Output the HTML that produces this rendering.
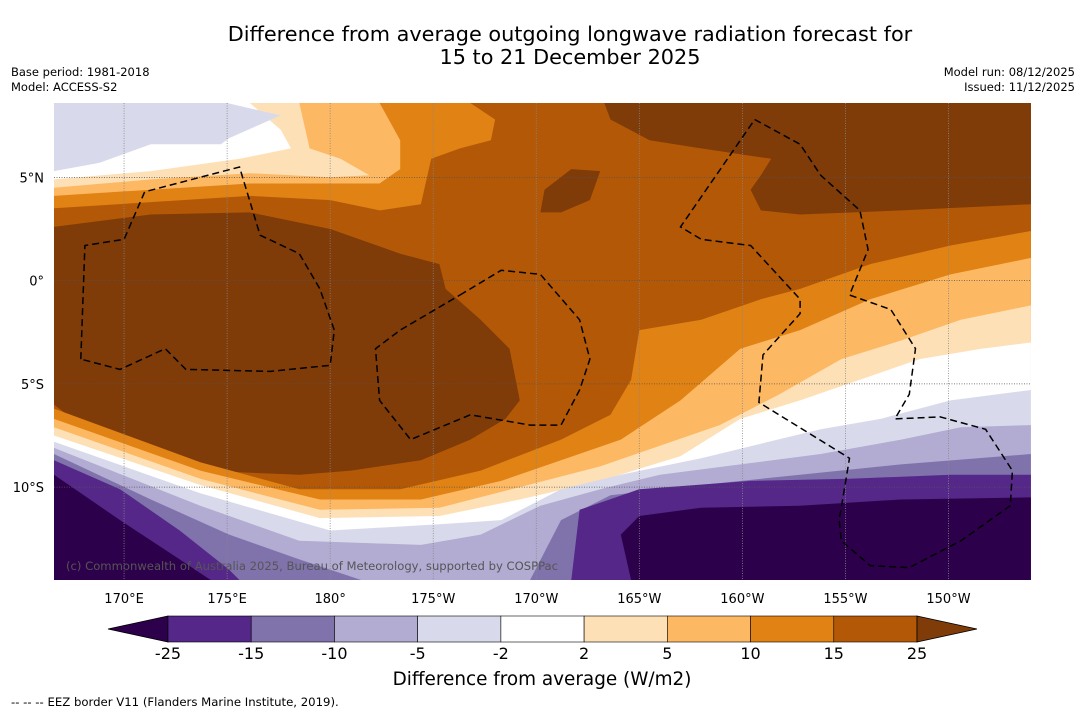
<!DOCTYPE html>
<html><head><meta charset="utf-8"><style>
body{margin:0;background:#fff;width:1085px;height:713px;overflow:hidden;font-family:"Liberation Sans","DejaVu Sans",sans-serif}
svg{display:block}
text{font-family:"DejaVu Sans","Liberation Sans",sans-serif}
</style></head><body>
<svg id="chart" width="1085" height="713" viewBox="0 0 1085 713">
<text x="570" y="41" font-size="20.8" text-anchor="middle" fill="#000">Difference from average outgoing longwave radiation forecast for</text>
<text x="570" y="64" font-size="20.8" text-anchor="middle" fill="#000">15 to 21 December 2025</text>
<text x="11" y="76" font-size="11.5">Base period: 1981-2018</text>
<text x="11" y="91" font-size="11.5">Model: ACCESS-S2</text>
<text x="1075" y="76" font-size="11.5" text-anchor="end">Model run: 08/12/2025</text>
<text x="1075" y="91" font-size="11.5" text-anchor="end">Issued: 11/12/2025</text>
<defs><clipPath id="mapclip"><rect x="54" y="103" width="977" height="477"/></clipPath></defs>
<g id="map" clip-path="url(#mapclip)"></g>
<g id="grid"></g>
<g id="eez" clip-path="url(#mapclip)"></g>
<text x="66" y="570" font-size="11.6" fill="#555">(c) Commonwealth of Australia 2025, Bureau of Meteorology, supported by COSPPac</text>
<g id="xticks"></g>
<g id="yticks"></g>
<g id="cbar"></g>
<text x="542" y="685" font-size="18.4" text-anchor="middle">Difference from average (W/m2)</text>
<text x="11" y="706" font-size="11.7">--  --  -- EEZ border V11 (Flanders Marine Institute, 2019).</text>
</svg>
<script>
const levels=[-25,-15,-10,-5,-2,2,5,10,15,25];
const colors=["#2d004b","#542788","#8073ac","#b2abd2","#d8daeb","#ffffff","#fee0b6","#fdb863","#e08214","#b35806","#7f3b08"];
const lonTicks=[170,175,180,185,190,195,200,205,210];
const lonLabels=["170°E","175°E","180°","175°W","170°W","165°W","160°W","155°W","150°W"];
const latTicks=[5,0,-5,-10];
const latLabels=["5°N","0°","5°S","10°S"];
// contour boundaries [lon(deg east), lat]
const bottom15=[[166.6,-6.2],[173.7,-8.8],[178.5,-10.1],[183.4,-10.1],[187.3,-9.2],[191.2,-7.7],[193.6,-6.5],[194.6,-4.8],[195,-2.4],[198,-1.9],[200.9,-0.9],[202.8,-0.4],[206.2,0.8],[210.1,1.7],[214,2.4]];
const bottom10=[[166.6,-6.7],[173.7,-9.2],[179.5,-10.6],[184.4,-10.6],[188.3,-9.7],[191.2,-8.7],[194.1,-7.7],[197,-5.8],[199.9,-3.3],[202.8,-2.4],[206.2,-0.9],[210.1,0.3],[214,1.1]];
const bottom5=[[166.6,-7.1],[173.7,-9.6],[179.5,-11.1],[185.3,-11.0],[189.2,-10.0],[193.1,-9.0],[196,-8.0],[198.9,-7.0],[201.8,-5.5],[204.8,-3.8],[207.7,-2.9],[210.6,-1.9],[214,-1.2]];
const bottom2=[[166.6,-7.5],[173.7,-9.9],[179.5,-11.5],[185.3,-11.4],[189.2,-10.6],[193.1,-9.7],[197,-8.5],[199.9,-6.7],[202.8,-5.8],[205.7,-4.8],[208.6,-3.8],[211.6,-3.3],[214,-3.0]];
const bottomM2=[[166.6,-7.8],[173.7,-10.3],[180,-12.1],[185.3,-11.8],[188.3,-11.6],[191.2,-10.1],[194.1,-9.4],[198,-8.6],[200.9,-7.9],[203.8,-7.2],[206.7,-6.7],[210.1,-5.8],[214,-5.3]];
const bottomM5=[[166.6,-8.1],[173.7,-10.9],[178.5,-12.6],[184.4,-12.8],[187.3,-12.3],[190.2,-10.9],[193.1,-10.1],[196,-9.4],[199.9,-8.9],[203.8,-8.4],[207.7,-7.7],[210.6,-7.1],[214,-7.0]];
const bottomM10=[[166.6,-8.4],[171.3,-10.6],[175.1,-12.3],[178.5,-13.5],[181.5,-14.5],[189.7,-14.5],[191.2,-11.6],[193.6,-10.4],[198,-9.9],[202.8,-9.4],[207.7,-8.9],[214,-8.4]];
const bottomM15=[[166.6,-8.7],[169.8,-10.1],[172.7,-12.1],[175.1,-14.0],[175.6,-14.5],[191.7,-14.5],[192.1,-11.1],[195,-10.1],[200.4,-9.7],[205.2,-9.6],[210.1,-9.4],[214,-9.4]];
const bottomM25=[[166.6,-9.4],[169.8,-11.6],[172.7,-13.5],[174.2,-14.5],[194.6,-14.5],[194.1,-12.3],[195,-11.4],[198,-11.0],[202.8,-10.9],[207.7,-10.6],[214,-10.5]];
const top15=[[166.6,3.5],[171.3,3.8],[176.1,4.1],[180,3.9],[182.4,3.4],[184.4,3.7],[184.9,5.9],[186.3,6.4],[187.8,6.8],[188,7.8],[186.8,8.6]];
const top10=[[166.6,4.1],[171.3,4.4],[176.1,4.7],[180,4.7],[182.4,4.7],[183.4,5.4],[183.4,6.8],[182.4,8.6]];
const top5=[[166.6,4.5],[171.3,4.9],[176.1,5.2],[180,5.0],[181.9,5.1],[180.5,5.9],[179,6.4],[178.5,8.6]];
const top2=[[166.6,4.9],[171.3,5.3],[175.6,5.9],[178.1,6.4],[177.6,7.3],[176.1,8.6]];
const topM2=[[166.6,5.3],[168.8,5.7],[171.3,6.6],[174.7,6.6],[175.1,6.9],[177.6,8.0],[175,8.6]];
const brownLeft=[[166.6,2.6],[171.3,3.2],[176.1,3.3],[180,2.5],[183.4,1.3],[185.3,0.8],[185.6,-0.4],[187.3,-1.9],[188.7,-3.3],[189.2,-5.8],[188.5,-6.7],[186.8,-7.7],[184.4,-8.7],[181,-9.2],[178.5,-9.4],[173.7,-9.2],[168.8,-7.7],[166.6,-6.0]];
const brownTopRight=[[193.3,8.6],[214,8.6],[214,3.7],[207.7,3.4],[202.8,3.2],[200.9,3.4],[200.4,4.4],[200.9,5.1],[201.4,5.9],[198,6.4],[195.5,6.8],[193.6,7.8]];
const brownSmall=[[190.4,4.4],[191.7,5.4],[193.1,5.3],[192.6,3.9],[191.2,3.3],[190.2,3.3]];
const eezLeft=[[167.9,-3.8],[168.1,1.7],[170,2.0],[171,4.3],[175.6,5.5],[176.6,2.2],[178.5,1.3],[179.5,-0.4],[180.2,-2.4],[180,-4.1],[177.1,-4.4],[173,-4.3],[172,-3.3],[169.8,-4.3],[167.9,-3.8]];
const eezMid=[[186.3,-0.7],[188.3,0.5],[190.2,0.3],[192.1,-1.9],[192.6,-3.8],[192.1,-5.3],[191.2,-7.0],[189.7,-7.0],[186.8,-6.5],[183.9,-7.7],[182.4,-5.8],[182.2,-3.3],[183.4,-2.4],[186.3,-0.7]];
const eezRight=[[200.6,7.8],[202.8,6.6],[203.8,5.1],[205.7,3.4],[206.1,1.5],[205.2,-0.7],[207.2,-1.4],[208.4,-3.3],[208.1,-5.5],[207.4,-6.7],[209.6,-6.6],[211.8,-7.2],[213.1,-9.2],[213,-10.9],[210.6,-12.6],[208.1,-13.9],[206.2,-13.8],[204.8,-12.6],[204.7,-11.6],[205.2,-8.6],[200.8,-5.9],[201,-3.6],[202.8,-1.6],[202.8,-0.9],[200.4,1.7],[198,2.0],[197,2.6],[200.6,7.8]];

const NS="http://www.w3.org/2000/svg";
const X=lon=>54+(lon-166.6)*20.61;
const Y=lat=>103+(8.6-lat)*20.65;
const pts=a=>a.map(p=>X(p[0]).toFixed(1)+","+Y(p[1]).toFixed(1)).join(" ");
function el(tag,attrs,parent){const e=document.createElementNS(NS,tag);for(const k in attrs)e.setAttribute(k,attrs[k]);parent.appendChild(e);return e;}
const map=document.getElementById('map');
const base=el('rect',{x:54,y:103,width:977,height:477,fill:colors[9]},map);


function poly(arr,fill,name){const p=el('polygon',{points:pts(arr),fill:fill},map);

}
poly(brownLeft,colors[10],'contour-above-25-west');
poly(brownTopRight,colors[10],'contour-above-25-northeast');
poly(brownSmall,colors[10],'contour-above-25-small');
const botLines=[[bottom15,8],[bottom10,7],[bottom5,6],[bottom2,5],[bottomM2,4],[bottomM5,3],[bottomM10,2],[bottomM15,1],[bottomM25,0]];
botLines.forEach(([l,c],i)=>poly(l.concat([[214,-14.5],[166.6,-14.5]]),colors[c],'contour-south-band-'+i));
const topLines=[[top15,8],[top10,7],[top5,6],[top2,5],[topM2,4]];
topLines.forEach(([l,c],i)=>poly(l.concat([[166.6,8.6]]),colors[c],'contour-north-band-'+i));
const grid=document.getElementById('grid');
lonTicks.forEach((t,i)=>{const g=el('line',{x1:X(t),x2:X(t),y1:103,y2:580,stroke:'#888','stroke-width':0.8,'stroke-dasharray':'1,1.5'},grid);


const tx=el('text',{x:X(t),y:603,'font-size':13,'text-anchor':'middle'},document.getElementById('xticks'));tx.textContent=lonLabels[i];

});
latTicks.forEach((t,i)=>{const g=el('line',{x1:54,x2:1031,y1:Y(t),y2:Y(t),stroke:'#555','stroke-width':0.8,'stroke-dasharray':'1,1.5'},grid);


const tx=el('text',{x:44,y:Y(t)+5,'font-size':13,'text-anchor':'end'},document.getElementById('yticks'));tx.textContent=latLabels[i];

});
const eez=document.getElementById('eez');
[eezLeft,eezMid,eezRight].forEach((a,i)=>{const l=el('polyline',{points:pts(a),fill:'none',stroke:'#000','stroke-width':1.5,'stroke-dasharray':'7,4'},eez);

});
// colorbar
const cb=document.getElementById('cbar');
const cx0=168,cw=749/9,cy=616,ch=26;
const lt=el('polygon',{points:`108,629 ${cx0},${cy} ${cx0},${cy+ch}`,fill:colors[0],stroke:'#000','stroke-width':0.8},cb);


for(let i=0;i<9;i++){const r=el('rect',{x:cx0+i*cw,y:cy,width:cw,height:ch,fill:colors[i+1],stroke:'#000','stroke-width':0.6},cb);

}
const rt=el('polygon',{points:`${cx0+9*cw},${cy} 977,629 ${cx0+9*cw},${cy+ch}`,fill:colors[10],stroke:'#000','stroke-width':0.8},cb);


levels.forEach((v,i)=>{const t=el('text',{x:cx0+i*cw,y:659,'font-size':16,'text-anchor':'middle'},cb);t.textContent=v;

});
</script>
</body></html>
